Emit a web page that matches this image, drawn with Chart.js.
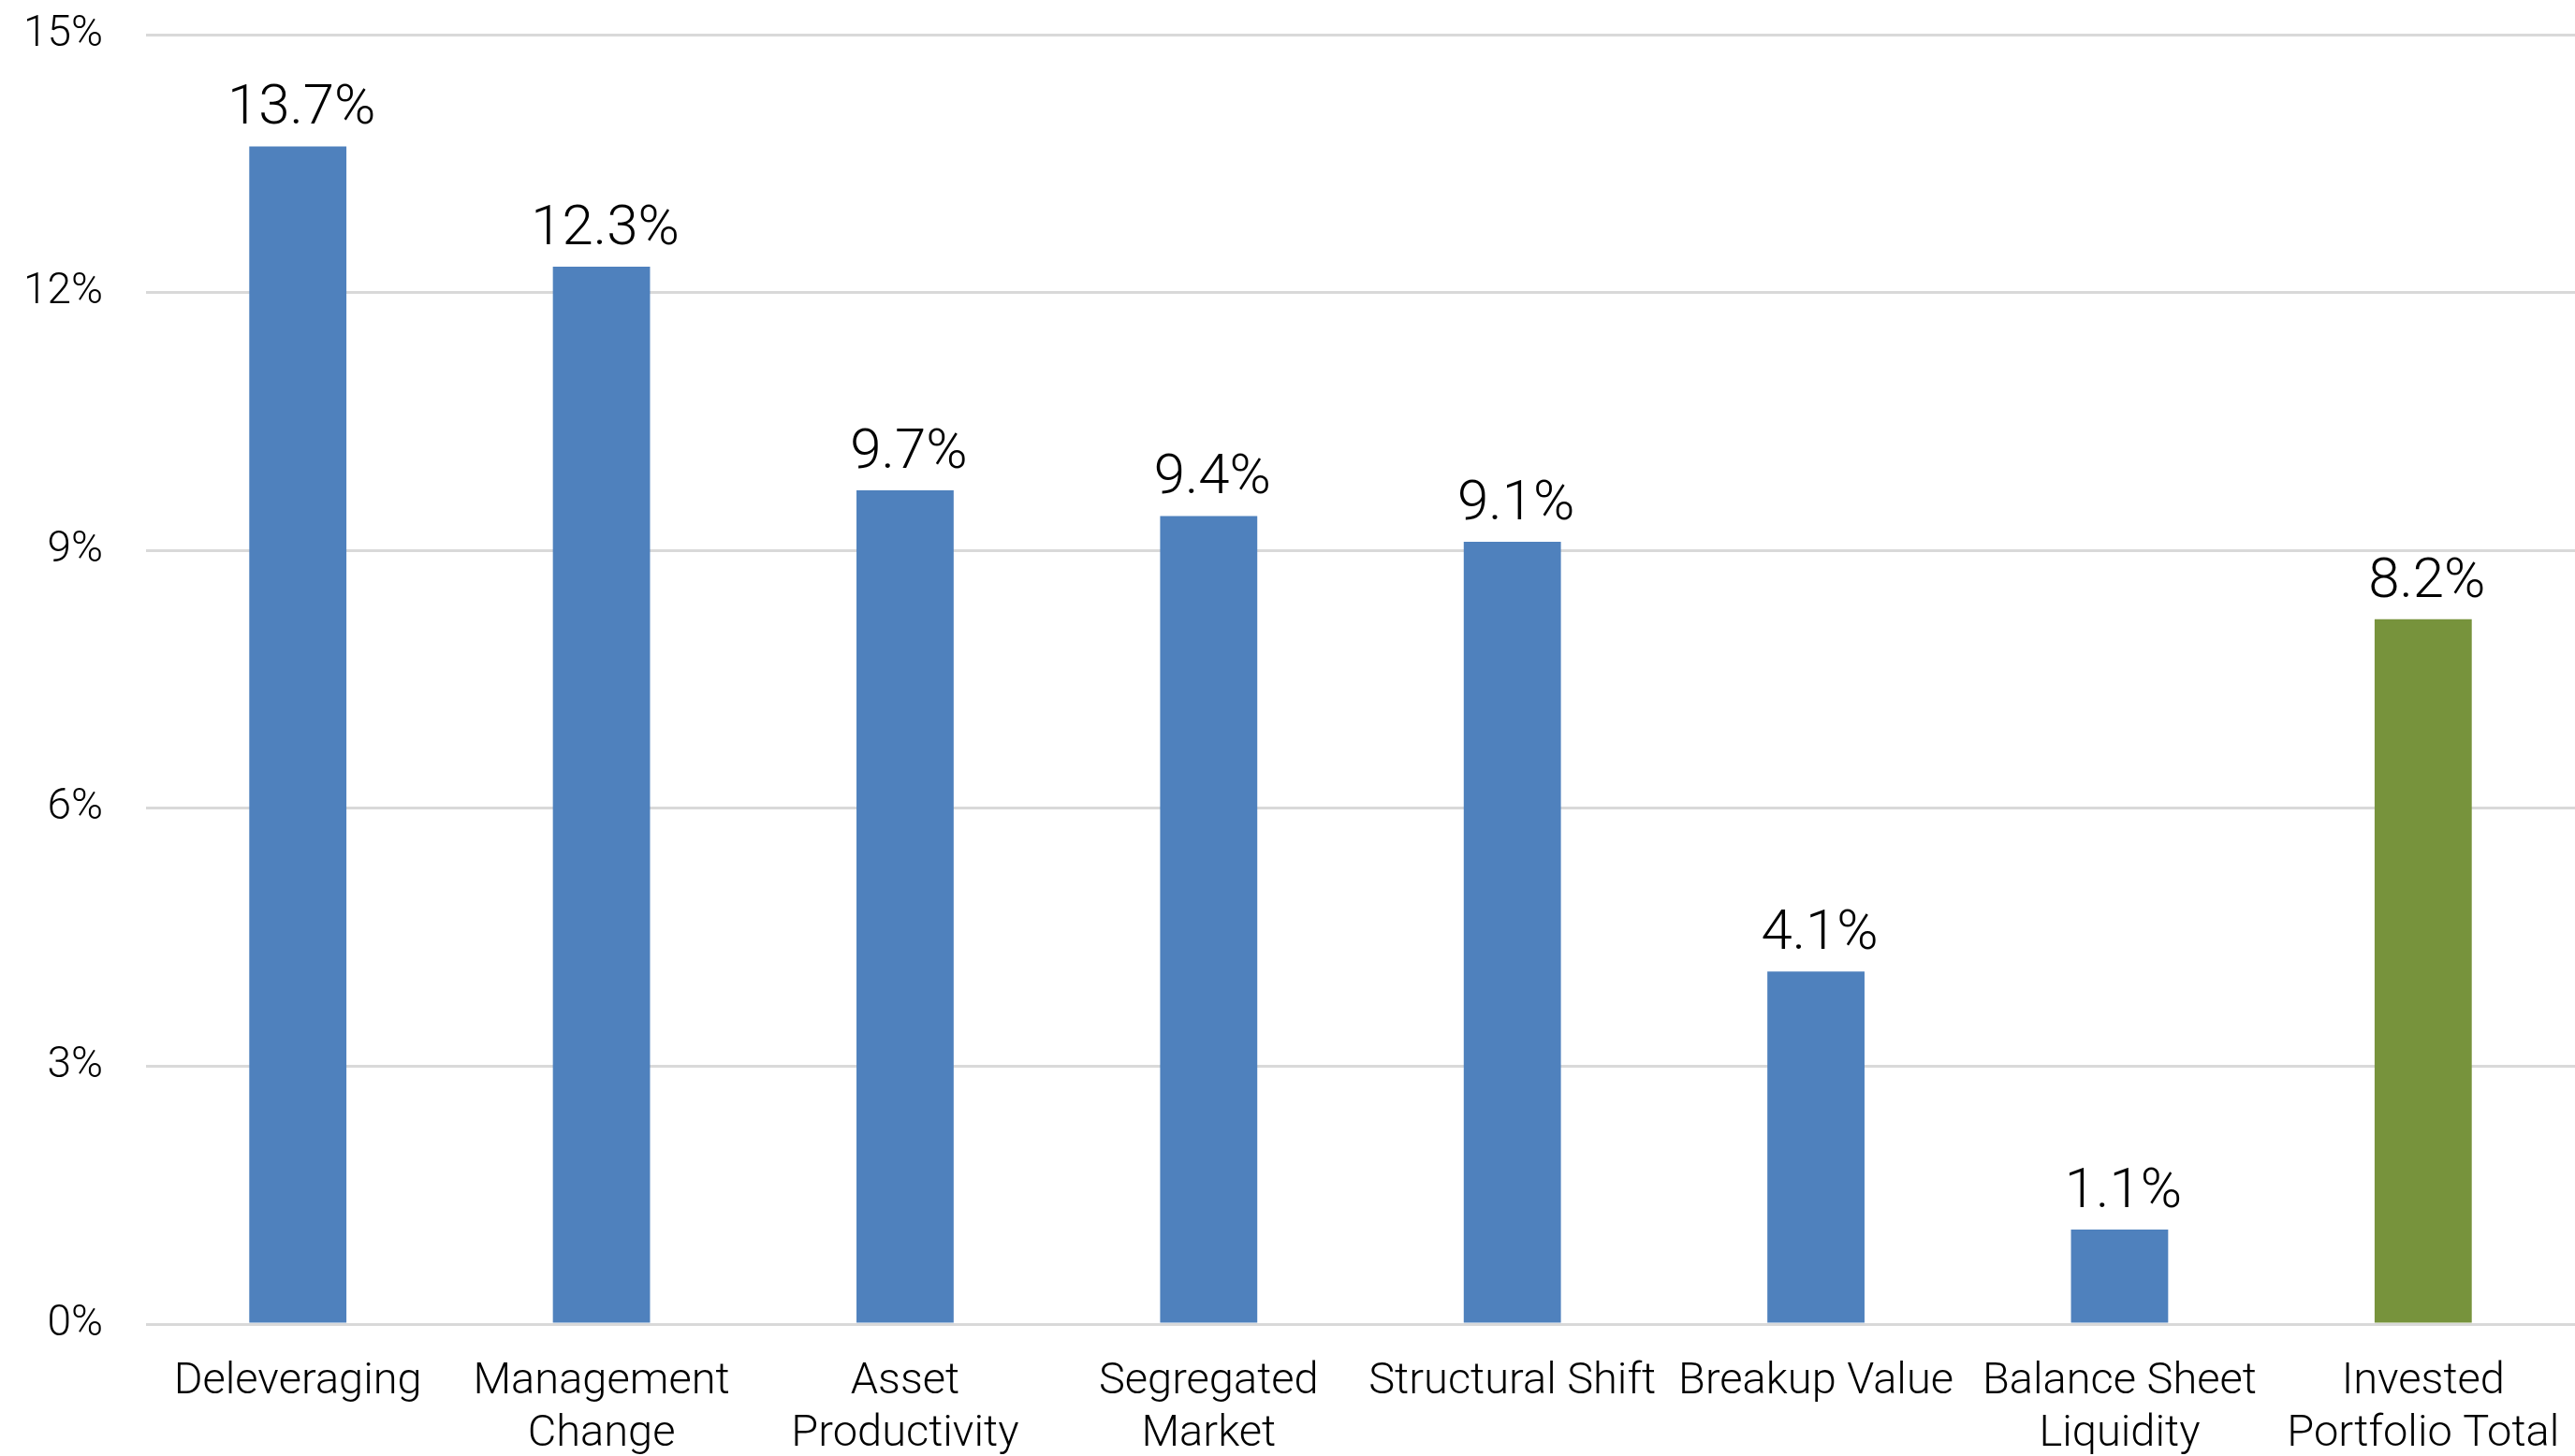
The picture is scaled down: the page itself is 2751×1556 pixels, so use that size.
<!DOCTYPE html>
<html>
<head>
<meta charset="utf-8">
<script src="https://cdn.jsdelivr.net/npm/chart.js@4/dist/chart.umd.min.js"></script>
<style>
  html, body { margin: 0; padding: 0; background: #fff; }
  #wrap { width: 2751px; height: 1556px; }
</style>
</head>
<body>
<div id="wrap"><canvas id="chart" width="2751" height="1556"></canvas></div>
<script>
// 数据
const categories = [
  'Deleveraging',
  ['Management', 'Change'],
  ['Asset', 'Productivity'],
  ['Segregated', 'Market'],
  'Structural Shift',
  'Breakup Value',
  ['Balance Sheet', 'Liquidity'],
  ['Invested', 'Portfolio Total']
];
const returns = [13.7, 12.3, 9.7, 9.4, 9.1, 4.1, 1.1, 8.2];
const yTicks = [0, 3, 6, 9, 12, 15];

const BLUE = '#4F81BD';
const GREEN = '#77933C';
const FONT = 'Roboto';

// 最后一根柱子是组合总计
const barColors = returns.map((v, i) => (i === returns.length - 1 ? GREEN : BLUE));

// 柱顶数值标签
const valueLabels = {
  id: 'valueLabels',
  afterDatasetsDraw(chart) {
    const { ctx } = chart;
    const meta = chart.getDatasetMeta(0);
    ctx.save();
    ctx.font = `300 60px ${FONT}`;
    ctx.fillStyle = '#000';
    ctx.textAlign = 'center';
    ctx.textBaseline = 'alphabetic';
    meta.data.forEach((bar, i) => {
      ctx.fillText(returns[i].toFixed(1) + '%', bar.x + 4, bar.y - 24);
    });
    ctx.restore();
  }
};

new Chart(document.getElementById('chart'), {
  type: 'bar',
  data: {
    labels: categories,
    datasets: [{
      data: returns,
      backgroundColor: barColors,
      borderWidth: 0,
      barPercentage: 0.32,
      categoryPercentage: 1
    }]
  },
  options: {
    responsive: false,
    maintainAspectRatio: false,
    devicePixelRatio: 1,
    animation: false,
    layout: { padding: { left: 25, right: -14, top: 37, bottom: 0 } },
    plugins: {
      legend: { display: false },
      tooltip: { enabled: false }
    },
    scales: {
      x: {
        grid: { display: false, drawTicks: false },
        border: { display: false },
        afterFit(axis) {
          axis.height = 141;
          axis.paddingLeft = 0;
          axis.paddingRight = 0;
        },
        ticks: {
          color: '#000',
          font: { family: FONT, size: 47, weight: 300, lineHeight: 1.19 },
          padding: 34,
          maxRotation: 0,
          autoSkip: false
        }
      },
      y: {
        min: 0,
        max: 15,
        afterBuildTicks(axis) {
          axis.ticks = yTicks.map(v => ({ value: v }));
        },
        afterFit(axis) {
          axis.width = 131;
          axis.paddingTop = 0;
          axis.paddingBottom = 0;
        },
        grid: { color: '#D9D9D9', lineWidth: 3, drawTicks: false },
        border: { display: false },
        ticks: {
          color: '#000',
          font: { family: FONT, size: 46, weight: 300 },
          padding: 46,
          callback: v => v + '%'
        }
      }
    }
  },
  plugins: [valueLabels]
});
</script>
</body>
</html>
